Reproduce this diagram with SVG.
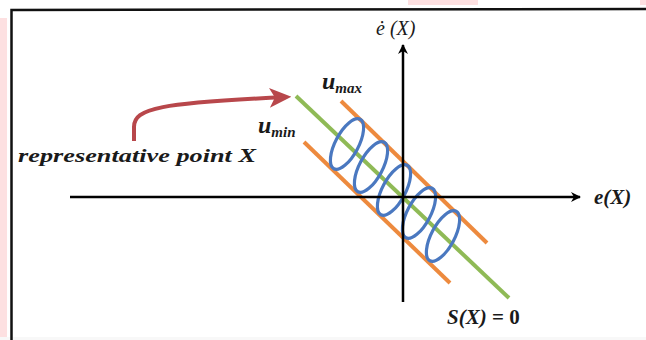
<svg xmlns="http://www.w3.org/2000/svg" width="646" height="340" viewBox="0 0 646 340">
<defs>
<style>
.frame{stroke:#111;stroke-width:2.5;fill:none}
.axis{stroke:#000;stroke-width:2.5;fill:none}
.orange{stroke:#ed8a3e;stroke-width:4;stroke-linecap:butt;fill:none}
.green{stroke:#8fba56;stroke-width:4;fill:none}
.blue{stroke:#4a78c0;stroke-width:3.2;fill:none}
.math{font-family:"Liberation Serif","DejaVu Serif",serif;font-style:italic;font-weight:bold;fill:#1a1a1a}
</style>
<marker id="ah" viewBox="0 0 10 10" refX="9" refY="5" markerWidth="4" markerHeight="4" orient="auto" markerUnits="strokeWidth">
<path d="M0,0 L10,5 L0,10 L3,5 Z" fill="#000"/>
</marker>
<marker id="ahr" viewBox="0 0 10 10" refX="8" refY="5" markerWidth="5.5" markerHeight="5.5" orient="auto" markerUnits="strokeWidth">
<path d="M0,0.5 L10,5 L0,9.5 L2.5,5 Z" fill="#b8474b"/>
</marker>
</defs>
<rect width="646" height="340" fill="#fff"/>
<rect x="0" y="18" width="7" height="322" fill="#fde0e1"/>
<rect x="408" y="0" width="70" height="5" fill="#fde0e1"/>
<rect x="640" y="0" width="6" height="5" fill="#fde0e1"/>
<rect x="0" y="337" width="646" height="3" fill="#f8f8f8"/>
<path class="frame" d="M11.5,340 L11.5,10 L646,9"/>

<g id="band">
<line class="orange" x1="341" y1="101" x2="487" y2="243"/>
<line class="orange" x1="304" y1="142" x2="450" y2="283"/>
<line class="green" x1="296" y1="96" x2="509" y2="298"/>
</g>
<g id="trajectory">
<ellipse class="blue" cx="347" cy="144" rx="11.5" ry="28" transform="rotate(28 347 144)"/>
<ellipse class="blue" cx="371" cy="167" rx="11.5" ry="28" transform="rotate(28 371 167)"/>
<ellipse class="blue" cx="394" cy="190" rx="11.5" ry="28" transform="rotate(28 394 190)"/>
<ellipse class="blue" cx="419" cy="213" rx="11.5" ry="28" transform="rotate(28 419 213)"/>
<ellipse class="blue" cx="443" cy="236" rx="11.5" ry="28" transform="rotate(28 443 236)"/>
</g>

<g id="connectors">
<line class="axis" x1="403" y1="302" x2="403" y2="45" marker-end="url(#ah)"/>
<line class="axis" x1="70" y1="197" x2="580" y2="197" marker-end="url(#ah)"/>
<path d="M134,141 L134,127 C134,108 160,103 287,97" stroke="#b8474b" stroke-width="4" fill="none" marker-end="url(#ahr)"/>
</g>

<g id="labels">
<text class="math" x="376" y="35" font-size="20" style="font-weight:normal">ė (X)</text>
<text class="math" x="594" y="204" font-size="21">e(X)</text>
<text class="math" x="18" y="162" font-size="19" textLength="238" lengthAdjust="spacingAndGlyphs">representative point X</text>
<text class="math" x="322" y="89" font-size="24">u<tspan font-size="15" dy="4">max</tspan></text>
<text class="math" x="258" y="133" font-size="24">u<tspan font-size="15" dy="4">min</tspan></text>
<text class="math" x="447" y="324" font-size="21">S(X) <tspan font-style="normal">=  0</tspan></text>
</g>
</svg>
